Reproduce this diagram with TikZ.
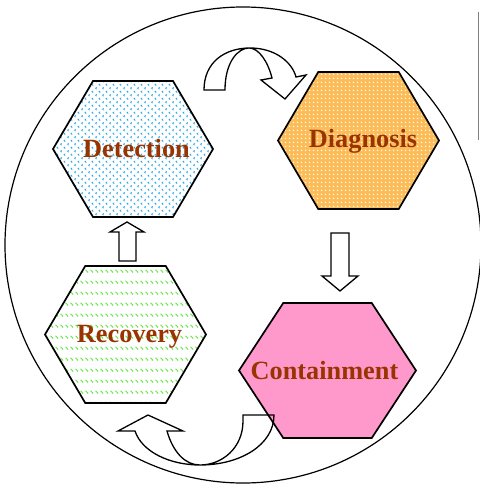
\documentclass[tikz,border=0pt]{standalone}
\usepackage{fontspec}
\setmainfont{Liberation Serif}
\usetikzlibrary{patterns}

\definecolor{labelbrown}{RGB}{153,51,0}
\definecolor{dotblue}{RGB}{50,170,230}
\definecolor{dashgreen}{RGB}{100,230,70}
\definecolor{hexorange}{RGB}{252,188,88}
\definecolor{hexpink}{RGB}{255,153,204}

\pgfdeclarepatternformonly{bluechevrons}{\pgfpoint{-0.5pt}{-0.5pt}}{\pgfpoint{7.5pt}{7.5pt}}{\pgfpoint{7pt}{7pt}}{%
  \pgfsetlinewidth{0.7pt}
  \pgfpathmoveto{\pgfpoint{2.2pt}{0.4pt}}\pgfpathlineto{\pgfpoint{1pt}{1.3pt}}\pgfpathlineto{\pgfpoint{2.2pt}{2.2pt}}
  \pgfpathmoveto{\pgfpoint{5.7pt}{3.9pt}}\pgfpathlineto{\pgfpoint{4.5pt}{4.8pt}}\pgfpathlineto{\pgfpoint{5.7pt}{5.7pt}}
  \pgfusepath{stroke}}
\pgfdeclarepatternformonly{greendashes}{\pgfpointorigin}{\pgfpoint{4.5pt}{10.5pt}}{\pgfpoint{4.5pt}{10.5pt}}{%
  \pgfsetlinewidth{1pt}
  \pgfpathmoveto{\pgfpoint{0.6pt}{6.5pt}}\pgfpathlineto{\pgfpoint{3.4pt}{3.7pt}}
  \pgfusepath{stroke}}
\pgfdeclarepatternformonly{whitecrosses}{\pgfpointorigin}{\pgfpoint{4pt}{4pt}}{\pgfpoint{4pt}{4pt}}{%
  \pgfsetlinewidth{0.6pt}
  \pgfpathmoveto{\pgfpoint{1pt}{2pt}}\pgfpathlineto{\pgfpoint{3pt}{2pt}}
  \pgfpathmoveto{\pgfpoint{2pt}{1pt}}\pgfpathlineto{\pgfpoint{2pt}{3pt}}
  \pgfusepath{stroke}}

% flat-topped hexagon: centre x, centre y, half width, half height
\newcommand{\hexa}[4]{(#1-#3,#2) -- ++(#3/2,-#4) -- ++(#3,0) -- ++(#3/2,#4) -- ++(-#3/2,#4) -- ++(-#3,0) -- cycle}

\begin{document}
\begin{tikzpicture}[x=1pt, y=-1pt,
    hexline/.style={draw=black, line width=1.7pt, line join=miter},
    blockarrow/.style={draw=black, line width=1.3pt, line join=miter},
    steplabel/.style={anchor=base, inner sep=0pt, text=labelbrown, font=\bfseries\fontsize{26.3}{30}\selectfont}]
        \useasboundingbox (0,0) rectangle (479,492);
        \draw[line width=1.2pt] (243,245) circle (238);
        \draw[gray, line width=1pt] (478,12) -- (478,140);

        \draw[hexline, pattern=bluechevrons, pattern color=dotblue] \hexa{133}{149}{80}{68};
        \draw[hexline, preaction={fill=hexorange}, pattern=whitecrosses, pattern color=white] \hexa{358.5}{140.5}{80.5}{68.5};
        \draw[hexline, pattern=greendashes, pattern color=dashgreen] \hexa{125.5}{334.5}{80.5}{68.5};
        \draw[hexline, fill=hexpink] \hexa{327.5}{370.5}{88.5}{67.5};

        \node[steplabel] (detect) at (136.5,157) {Detection};
        \node[steplabel] (diagnose) at (363,147) {Diagnosis};
        \node[steplabel] (recover) at (129.5,342) {Recovery};
        \node[steplabel] (contain) at (324.5,379) {Containment};

        % straight arrows
        \draw[blockarrow] (119,261) -- (119,232) -- (110,232) -- (127,222) -- (144,232) -- (136,232) -- (136,261) -- cycle;
        \draw[blockarrow] (331,233) -- (331,276) -- (322,276) -- (340,291) -- (358,276) -- (349,276) -- (349,233) -- cycle;

        % curved arrows
        \draw[blockarrow] (204,90) .. controls (204,62) and (225,48) .. (250,48)
            .. controls (275,48) and (292,62) .. (296,77) -- (306,75) -- (285,99) -- (261,80) -- (272,78)
            .. controls (268,62) and (259,48) .. (249,48)
            .. controls (238,48) and (225,62) .. (225,90) -- cycle;
        \draw[blockarrow] (243,415) -- (274,415) .. controls (274,445) and (240,465) .. (200,465)
            .. controls (170,465) and (142,452) .. (135,431) -- (118,431) -- (148,415) -- (183,431) -- (167,431)
            .. controls (173,452) and (185,465) .. (200,465)
            .. controls (222,465) and (243,448) .. (243,421) -- cycle;
    \end{tikzpicture}
\end{document}
